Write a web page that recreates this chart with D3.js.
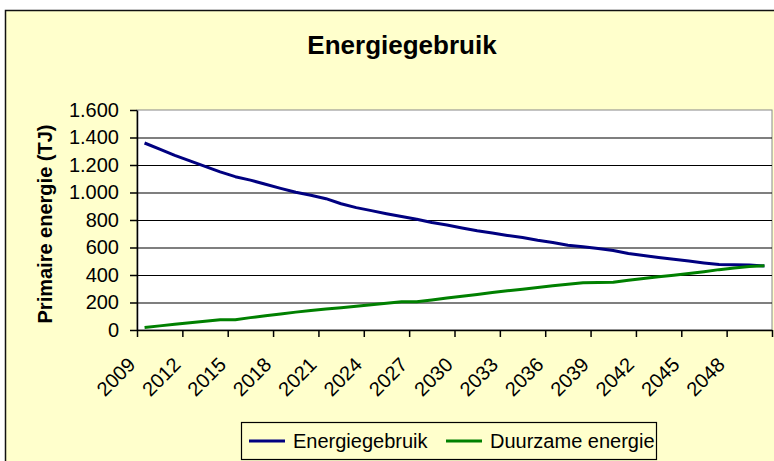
<!DOCTYPE html>
<html>
<head>
<meta charset="utf-8">
<script src="https://cdn.jsdelivr.net/npm/d3@7"></script>
<style>
  body { margin: 0; background: #fff; }
  text { font-family: "Liberation Sans", Arial, sans-serif; fill: #000; }
</style>
</head>
<body>
<svg id="chart" width="774" height="461"></svg>
<script>
const WIDTH = 774;
const HEIGHT = 461;
const PLOT_LEFT = 137;
const PLOT_RIGHT = 772;
const PLOT_TOP = 110;
const PLOT_BOTTOM = 330;

// data
const years = [2009, 2010, 2011, 2012, 2013, 2014, 2015, 2016, 2017, 2018,
	2019, 2020, 2021, 2022, 2023, 2024, 2025, 2026, 2027, 2028,
	2029, 2030, 2031, 2032, 2033, 2034, 2035, 2036, 2037, 2038,
	2039, 2040, 2041, 2042, 2043, 2044, 2045, 2046, 2047, 2048,
	2049, 2050];
const energiegebruik = [1360, 1315, 1270, 1230, 1190, 1150, 1115, 1090, 1060, 1030,
	1002, 980, 955, 918, 890, 868, 846, 825, 805, 782,
	764, 742, 722, 705, 688, 672, 653, 637, 617, 605,
	593, 578, 557, 542, 527, 514, 501, 488, 477, 474,
	473, 466];
const duurzaam = [18, 30, 42, 53, 64, 75, 75, 90, 103, 117,
	130, 142, 152, 162, 172, 183, 195, 205, 205, 219,
	233, 246, 259, 272, 285, 297, 309, 321, 332, 343,
	346, 347, 362, 375, 387, 399, 411, 424, 439, 451,
	461, 468];
const yTicks = [0, 200, 400, 600, 800, 1000, 1200, 1400, 1600];
const labelYears = [2009, 2012, 2015, 2018, 2021, 2024, 2027, 2030, 2033, 2036, 2039, 2042, 2045, 2048];
const seriesNames = ['Energiegebruik', 'Duurzame energie'];
const seriesColors = ['#000080', '#008000'];

const nl = d3.formatLocale({decimal: ',', thousands: '.', grouping: [3], currency: ['€', '']});
const fmt = nl.format(',d');

const svg = d3.select('#chart');

// chart area
svg.append('rect')
	.attr('x', 5.5).attr('y', 10.5)
	.attr('width', 800).attr('height', 470)
	.attr('fill', '#ffffcc')
	.attr('stroke', '#111')
	.attr('stroke-width', 1.5);

svg.append('text')
	.attr('x', 402).attr('y', 54)
	.attr('text-anchor', 'middle')
	.attr('font-size', '26px')
	.attr('font-weight', 'bold')
	.text('Energiegebruik');

const x = d3.scaleBand().domain(years).range([PLOT_LEFT, PLOT_RIGHT]);
const xEdge = d3.scaleLinear().domain([0, years.length]).range([PLOT_LEFT, PLOT_RIGHT]);
const y = d3.scaleLinear().domain([0, 1600]).range([PLOT_BOTTOM, PLOT_TOP]);

// plot area
svg.append('rect')
	.attr('x', PLOT_LEFT).attr('y', PLOT_TOP)
	.attr('width', PLOT_RIGHT - PLOT_LEFT).attr('height', PLOT_BOTTOM - PLOT_TOP)
	.attr('fill', '#fff')
	.attr('stroke', '#888')
	.attr('stroke-width', 1);

// gridlines
svg.append('g')
	.attr('class', 'grid')
	.attr('transform', `translate(${PLOT_LEFT},0)`)
	.call(d3.axisRight(y).tickValues(yTicks.slice(1, -1)).tickSize(PLOT_RIGHT - PLOT_LEFT).tickFormat(''))
	.call(g => g.select('.domain').remove())
	.call(g => g.selectAll('line').attr('stroke', '#000').attr('stroke-width', 1.2));

// y axis
svg.append('g')
	.attr('transform', `translate(${PLOT_LEFT},0)`)
	.call(d3.axisLeft(y).tickValues(yTicks).tickSize(7).tickPadding(11).tickFormat(fmt).tickSizeOuter(0))
	.call(g => g.selectAll('text').attr('font-size', '20px').attr('font-family', null))
	.call(g => g.selectAll('line, path').attr('stroke', '#000').attr('stroke-width', 1.5));

// x axis, ticks on category edges every 3 years
svg.append('g')
	.attr('transform', `translate(0,${PLOT_BOTTOM})`)
	.call(d3.axisBottom(xEdge).tickValues(d3.range(0, years.length + 1, 3)).tickSize(7).tickFormat('').tickSizeOuter(0))
	.call(g => g.selectAll('line, path').attr('stroke', '#000').attr('stroke-width', 1.5));

svg.append('g')
	.selectAll('text')
	.data(labelYears)
	.enter()
	.append('text')
	.attr('transform', d => `translate(${x(d) + x.bandwidth() / 2 - 8},${PLOT_BOTTOM + 36}) rotate(-45)`)
	.attr('text-anchor', 'end')
	.attr('font-size', '20px')
	.text(d => d);

svg.append('text')
	.attr('transform', `translate(52,224) rotate(-90)`)
	.attr('text-anchor', 'middle')
	.attr('font-size', '20px')
	.attr('font-weight', 'bold')
	.text('Primaire energie (TJ)');

// lines
const line = d3.line()
	.x((d, i) => x(years[i]) + x.bandwidth() / 2)
	.y(d => y(d));

[energiegebruik, duurzaam].forEach((s, i) => {
	svg.append('path')
		.datum(s)
		.attr('fill', 'none')
		.attr('stroke', seriesColors[i])
		.attr('stroke-width', 3)
		.attr('stroke-linejoin', 'round')
		.attr('d', line);
});

// legend
const legend = svg.append('g');
legend.append('rect')
	.attr('x', 241.5).attr('y', 422.5)
	.attr('width', 415).attr('height', 37)
	.attr('fill', '#ffffcc')
	.attr('stroke', '#000')
	.attr('stroke-width', 1.2);

const legendX = [249, 446];
seriesNames.forEach((name, i) => {
	legend.append('line')
		.attr('x1', legendX[i]).attr('x2', legendX[i] + 36)
		.attr('y1', 441).attr('y2', 441)
		.attr('stroke', seriesColors[i])
		.attr('stroke-width', 3);
	legend.append('text')
		.attr('x', legendX[i] + 44).attr('y', 448)
		.attr('font-size', '20px')
		.text(name);
});
</script>
</body>
</html>
